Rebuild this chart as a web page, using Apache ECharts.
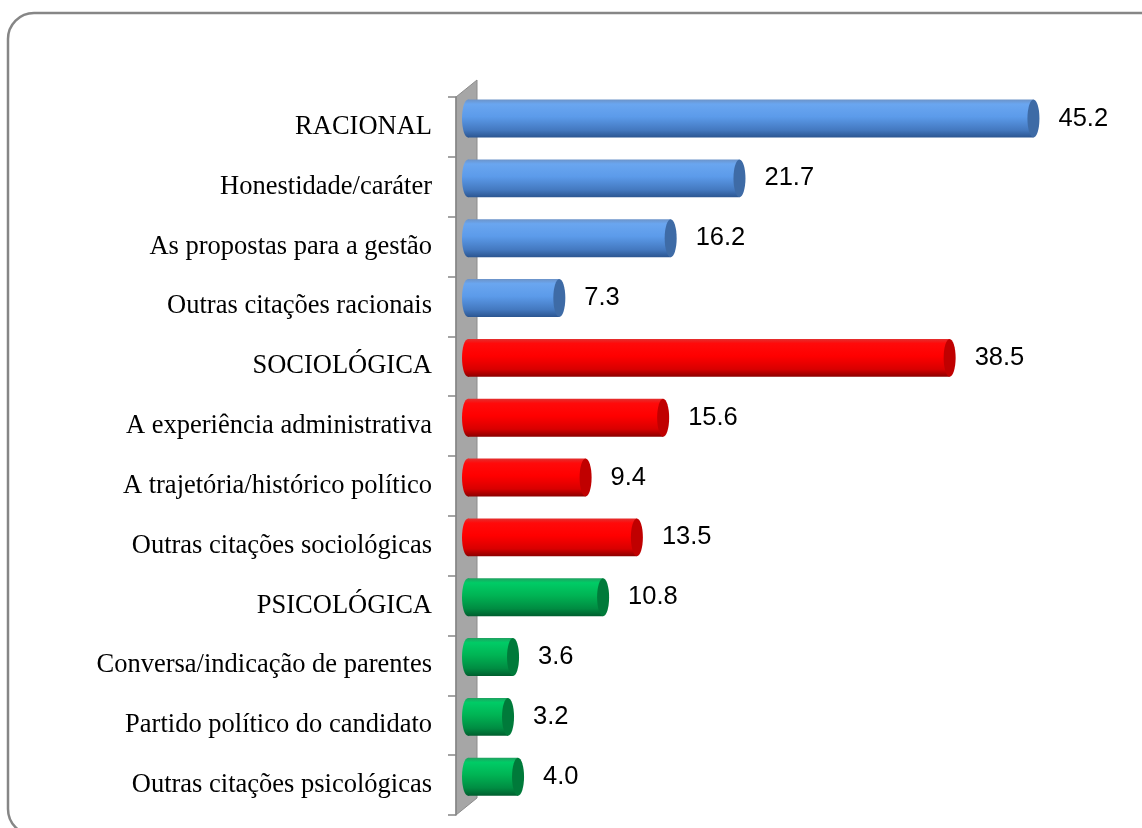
<!DOCTYPE html>
<html>
<head>
<meta charset="utf-8">
<script src="https://cdn.jsdelivr.net/npm/echarts@6/dist/echarts.min.js"></script>
<style>
  html, body { margin: 0; padding: 0; background: #fff; }
  #chart { width: 1142px; height: 828px; }
</style>
</head>
<body>
<div id="chart"></div>
<script>
// Motivos de escolha do candidato (%), agrupados por tipo de voto
const categories = [
  'RACIONAL',
  'Honestidade/caráter',
  'As propostas para a gestão',
  'Outras citações racionais',
  'SOCIOLÓGICA',
  'A experiência administrativa',
  'A trajetória/histórico político',
  'Outras citações sociológicas',
  'PSICOLÓGICA',
  'Conversa/indicação de parentes',
  'Partido político do candidato',
  'Outras citações psicológicas'
];
const values = [45.2, 21.7, 16.2, 7.3, 38.5, 15.6, 9.4, 13.5, 10.8, 3.6, 3.2, 4.0];
const groups = ['rac', 'rac', 'rac', 'rac', 'soc', 'soc', 'soc', 'soc', 'psi', 'psi', 'psi', 'psi'];

// Cylinder palettes per group: body gradient stops + end-cap colour
const palettes = {
  rac: { stops: ['#6C93C8', '#6AA6F0', '#5C9BEA', '#4479C0', '#2B5590'], cap: '#3E6BA6' },
  soc: { stops: ['#E23030', '#FF0A0A', '#FF0000', '#D80000', '#8A0000'], cap: '#C00000' },
  psi: { stops: ['#20A060', '#00CC66', '#00B454', '#008C42', '#005E2E'], cap: '#007A3A' }
};

function bodyGradient(p) {
  return new echarts.graphic.LinearGradient(0, 0, 0, 1, [
    { offset: 0, color: p.stops[0] },
    { offset: 0.12, color: p.stops[1] },
    { offset: 0.45, color: p.stops[2] },
    { offset: 0.8, color: p.stops[3] },
    { offset: 1, color: p.stops[4] }
  ]);
}

// The value axis starts a little below zero so that the cylinders
// begin just inside the grey back wall, which sits on the category axis.
const GRID_LEFT = 456, GRID_TOP = 97, GRID_RIGHT = 48.5, GRID_BOTTOM = 13;
const X_MIN = -0.96, X_MAX = 50;
const WALL_WIDTH = 21;  // horizontal depth of the back wall
const WALL_RISE = 17;   // vertical offset of the wall's back edge

const chart = echarts.init(document.getElementById('chart'), null, { renderer: 'canvas' });

const seriesData = values.map((v, i) => [i, v, groups[i]]);

const option = {
  backgroundColor: '#ffffff',
  animation: false,
  grid: { left: GRID_LEFT, top: GRID_TOP, right: GRID_RIGHT, bottom: GRID_BOTTOM, containLabel: false },
  xAxis: {
    type: 'value', min: X_MIN, max: X_MAX, show: false
  },
  yAxis: {
    type: 'category',
    position: 'left',
    data: categories,
    inverse: true,
    z: 3,
    axisLine: { show: true, onZero: false, lineStyle: { color: '#868686', width: 1.5 } },
    axisTick: { show: true, inside: false, length: 8, lineStyle: { color: '#868686', width: 1.5 } },
    axisLabel: {
      margin: 24,
      color: '#000000',
      fontFamily: 'Liberation Serif',
      fontSize: 26.5
    },
    splitLine: { show: false }
  },
  graphic: [
    {
      type: 'polygon',
      z: -1,
      shape: {
        points: [
          [GRID_LEFT, GRID_TOP],
          [GRID_LEFT + WALL_WIDTH, GRID_TOP - WALL_RISE],
          [GRID_LEFT + WALL_WIDTH, 828 - GRID_BOTTOM - WALL_RISE],
          [GRID_LEFT, 828 - GRID_BOTTOM]
        ]
      },
      style: { fill: '#A6A6A6', stroke: '#8C8C8C', lineWidth: 1 }
    },
    {
      type: 'rect',
      z: 100,
      shape: { x: 8, y: 13, width: 1160, height: 822, r: 26 },
      style: { fill: 'none', stroke: '#868686', lineWidth: 2.5 }
    }
  ],
  series: [{
    type: 'custom',
    data: seriesData,
    encode: { x: 1, y: 0 },
    z: 5,
    renderItem: function (params, api) {
      const cat = api.value(0);
      const v = api.value(1);
      const pal = palettes[seriesData[params.dataIndex][2]];
      const p0 = api.coord([0, cat]);
      const p1 = api.coord([v, cat]);
      const band = api.size([0, 1])[1];
      const h = band * 0.635;
      const cy = p0[1] - band * 0.14;
      const rx = 6, ry = h / 2;
      const grad = bodyGradient(pal);
      return {
        type: 'group',
        children: [
          { type: 'ellipse', shape: { cx: p0[0], cy: cy, rx: rx, ry: ry }, style: { fill: grad } },
          { type: 'rect', shape: { x: p0[0], y: cy - ry, width: p1[0] - p0[0], height: h }, style: { fill: grad } },
          { type: 'ellipse', shape: { cx: p1[0], cy: cy, rx: rx, ry: ry }, style: { fill: pal.cap } },
          {
            type: 'text',
            style: {
              text: v.toFixed(1),
              x: p1[0] + rx + 19,
              y: cy,
              verticalAlign: 'middle',
              align: 'left',
              fill: '#000000',
              font: '25.5px "Liberation Sans", Arial, sans-serif'
            }
          }
        ]
      };
    }
  }]
};

chart.setOption(option);
</script>
</body>
</html>
